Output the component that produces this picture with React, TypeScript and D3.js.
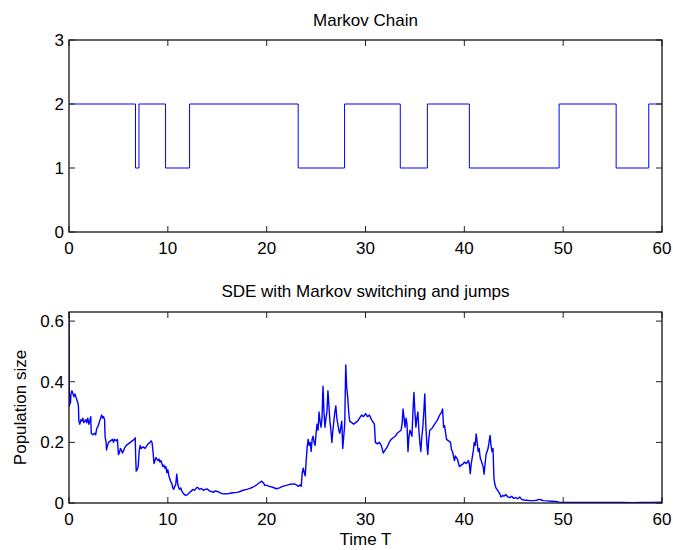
import React from 'react';
import * as d3 from 'd3';

// Markov chain: state holds from each switch time until the next
const switchTimes = [0, 6.73, 7.08, 9.77, 12.2, 23.19, 27.88, 33.52, 36.26, 40.51, 49.59, 55.36, 58.66, 60];
const chainStates = [2, 1, 2, 1, 2, 1, 2, 1, 2, 1, 2, 1, 2, 2];

// SDE path [time, population]
const sdePath: [number, number][] = [
  [0, 0.63], [0.02, 0.4], [0.05, 0.32], [0.1, 0.35], [0.15, 0.33], [0.2, 0.36], [0.3, 0.37], [0.4, 0.36],
  [0.5, 0.35], [0.6, 0.36], [0.7, 0.35], [0.8, 0.34], [0.9, 0.33], [0.95, 0.32], [1.0, 0.27], [1.1, 0.26],
  [1.2, 0.275], [1.3, 0.27], [1.4, 0.28], [1.5, 0.265], [1.6, 0.27], [1.7, 0.275], [1.8, 0.265], [1.9, 0.28],
  [2.0, 0.26], [2.1, 0.27], [2.2, 0.285], [2.25, 0.23], [2.4, 0.225], [2.6, 0.23], [2.7, 0.225], [2.8, 0.245],
  [2.9, 0.25], [3.0, 0.26], [3.1, 0.27], [3.2, 0.28], [3.3, 0.29], [3.4, 0.28], [3.5, 0.285], [3.6, 0.275],
  [3.65, 0.22], [3.75, 0.2], [3.8, 0.175], [3.9, 0.19], [4.0, 0.2], [4.2, 0.205], [4.4, 0.21], [4.5, 0.2],
  [4.6, 0.21], [4.8, 0.205], [4.9, 0.21], [5.0, 0.16], [5.1, 0.165], [5.2, 0.18], [5.3, 0.175], [5.4, 0.165],
  [5.5, 0.17], [5.6, 0.18], [5.8, 0.19], [6.0, 0.195], [6.2, 0.2], [6.4, 0.205], [6.6, 0.21], [6.7, 0.215],
  [6.75, 0.15], [6.8, 0.105], [6.9, 0.11], [7.0, 0.12], [7.1, 0.17], [7.2, 0.19], [7.3, 0.18], [7.5, 0.185],
  [7.7, 0.18], [7.9, 0.19], [8.0, 0.195], [8.2, 0.2], [8.3, 0.205], [8.4, 0.2], [8.5, 0.17], [8.6, 0.13],
  [8.7, 0.14], [8.8, 0.15], [8.9, 0.145], [9.0, 0.14], [9.1, 0.145], [9.2, 0.135], [9.3, 0.14], [9.4, 0.13],
  [9.5, 0.12], [9.6, 0.125], [9.7, 0.115], [9.8, 0.12], [9.9, 0.1], [10.0, 0.11], [10.1, 0.09], [10.2, 0.08],
  [10.3, 0.07], [10.4, 0.065], [10.5, 0.05], [10.6, 0.045], [10.7, 0.055], [10.8, 0.06], [10.9, 0.095], [11.0, 0.065],
  [11.1, 0.05], [11.2, 0.045], [11.3, 0.05], [11.4, 0.04], [11.5, 0.035], [11.6, 0.03], [11.8, 0.025], [12.0, 0.028],
  [12.2, 0.035], [12.4, 0.04], [12.5, 0.045], [12.7, 0.042], [12.9, 0.05], [13.0, 0.052], [13.2, 0.045], [13.4, 0.048],
  [13.6, 0.042], [13.8, 0.045], [14.0, 0.046], [14.2, 0.04], [14.4, 0.038], [14.6, 0.035], [14.8, 0.04], [15.0, 0.038],
  [15.2, 0.036], [15.4, 0.032], [15.6, 0.03], [15.8, 0.031], [16.0, 0.03], [16.3, 0.032], [16.6, 0.034], [17.0, 0.035],
  [17.3, 0.038], [17.6, 0.042], [18.0, 0.045], [18.3, 0.048], [18.6, 0.052], [19.0, 0.06], [19.2, 0.065], [19.5, 0.072],
  [19.7, 0.065], [19.8, 0.058], [20.0, 0.058], [20.3, 0.055], [20.6, 0.052], [21.0, 0.047], [21.3, 0.05], [21.6, 0.055],
  [22.0, 0.058], [22.4, 0.062], [22.8, 0.063], [23.0, 0.06], [23.2, 0.055], [23.4, 0.06], [23.5, 0.055], [23.6, 0.1],
  [23.7, 0.115], [23.8, 0.1], [23.9, 0.09], [24.0, 0.14], [24.1, 0.185], [24.2, 0.21], [24.3, 0.19], [24.4, 0.2],
  [24.5, 0.17], [24.6, 0.21], [24.7, 0.22], [24.8, 0.2], [24.9, 0.19], [25.0, 0.23], [25.1, 0.26], [25.2, 0.24],
  [25.3, 0.3], [25.4, 0.27], [25.5, 0.25], [25.6, 0.28], [25.7, 0.385], [25.8, 0.3], [25.9, 0.25], [26.0, 0.28],
  [26.1, 0.3], [26.2, 0.37], [26.3, 0.32], [26.4, 0.27], [26.5, 0.24], [26.6, 0.2], [26.7, 0.24], [26.8, 0.27],
  [26.9, 0.3], [27.0, 0.32], [27.1, 0.28], [27.2, 0.26], [27.3, 0.24], [27.4, 0.23], [27.5, 0.25], [27.6, 0.27],
  [27.7, 0.18], [27.8, 0.22], [27.9, 0.26], [28.0, 0.455], [28.1, 0.38], [28.2, 0.35], [28.3, 0.3], [28.4, 0.27],
  [28.6, 0.265], [28.8, 0.26], [29.0, 0.265], [29.2, 0.27], [29.4, 0.28], [29.6, 0.29], [29.8, 0.285], [30.0, 0.295],
  [30.2, 0.285], [30.4, 0.29], [30.6, 0.275], [30.8, 0.265], [30.9, 0.26], [31.0, 0.2], [31.2, 0.195], [31.4, 0.2],
  [31.6, 0.19], [31.8, 0.165], [32.0, 0.175], [32.2, 0.185], [32.4, 0.2], [32.6, 0.21], [32.8, 0.215], [33.0, 0.22],
  [33.2, 0.23], [33.4, 0.235], [33.6, 0.24], [33.7, 0.26], [33.8, 0.31], [33.9, 0.28], [34.0, 0.25], [34.1, 0.28],
  [34.2, 0.26], [34.3, 0.17], [34.4, 0.22], [34.5, 0.24], [34.6, 0.23], [34.7, 0.22], [34.8, 0.3], [34.9, 0.365],
  [35.0, 0.3], [35.1, 0.25], [35.2, 0.28], [35.3, 0.3], [35.4, 0.24], [35.5, 0.2], [35.6, 0.17], [35.7, 0.22],
  [35.8, 0.25], [35.9, 0.3], [36.0, 0.36], [36.1, 0.26], [36.2, 0.2], [36.3, 0.16], [36.4, 0.21], [36.5, 0.24],
  [36.7, 0.245], [36.9, 0.255], [37.1, 0.265], [37.3, 0.275], [37.5, 0.29], [37.7, 0.3], [37.8, 0.31], [37.9, 0.25],
  [38.0, 0.255], [38.2, 0.21], [38.4, 0.205], [38.6, 0.2], [38.7, 0.175], [38.8, 0.17], [39.0, 0.14], [39.1, 0.155],
  [39.3, 0.145], [39.5, 0.12], [39.7, 0.125], [39.9, 0.13], [40.0, 0.135], [40.2, 0.13], [40.4, 0.14], [40.5, 0.13],
  [40.6, 0.097], [40.7, 0.13], [40.8, 0.15], [40.9, 0.17], [41.0, 0.2], [41.1, 0.19], [41.2, 0.228], [41.3, 0.2],
  [41.4, 0.17], [41.5, 0.18], [41.6, 0.15], [41.7, 0.14], [41.8, 0.13], [41.9, 0.12], [42.0, 0.095], [42.1, 0.13],
  [42.2, 0.16], [42.3, 0.17], [42.4, 0.18], [42.5, 0.2], [42.6, 0.223], [42.7, 0.19], [42.8, 0.17], [42.9, 0.18],
  [43.0, 0.08], [43.1, 0.06], [43.2, 0.05], [43.3, 0.045], [43.4, 0.04], [43.6, 0.03], [43.7, 0.02], [43.9, 0.025],
  [44.0, 0.022], [44.2, 0.028], [44.4, 0.02], [44.6, 0.018], [44.8, 0.022], [45.0, 0.015], [45.2, 0.018], [45.4, 0.014],
  [45.6, 0.02], [45.8, 0.012], [46.0, 0.01], [46.3, 0.009], [46.6, 0.008], [47.0, 0.008], [47.3, 0.009], [47.6, 0.012],
  [47.8, 0.01], [48.0, 0.008], [48.4, 0.007], [48.8, 0.006], [49.2, 0.005], [49.6, 0.003], [50.0, 0.002], [51, 0.002],
  [52, 0.0015], [53, 0.002], [54, 0.0015], [55, 0.0015], [56, 0.002], [57, 0.001], [58, 0.0015], [59, 0.002], [60, 0.003],
];

const xTicks = [0, 10, 20, 30, 40, 50, 60];
const chainTicks = [0, 1, 2, 3];
const popTicks = [0, 0.2, 0.4, 0.6];

const font = '"Liberation Sans", Arial, Helvetica, sans-serif';
const W = 673;
const H = 550;
const left = 69;
const right = 662;
const tickLen = 6;

type PanelProps = {
  top: number;
  bottom: number;
  yMax: number;
  yTicks: number[];
  yFmt: (v: number) => string;
  path: (y: d3.ScaleLinear<number, number>) => string;
  lineWidth: number;
  title: string;
  titleY: number;
};

const x = d3.scaleLinear().domain([0, 60]).range([left, right]);

function Panel({ top, bottom, yMax, yTicks, yFmt, path, lineWidth, title, titleY }: PanelProps) {
  const y = d3.scaleLinear().domain([0, yMax]).range([bottom, top]);
  return (
    <g>
      <text x={(left + right) / 2} y={titleY} textAnchor="middle" fontSize={17} fontFamily={font}>{title}</text>
      <defs>
        <clipPath id={`clip-${top}`}>
          <rect x={left} y={top} width={right - left} height={bottom - top} />
        </clipPath>
      </defs>
      <path d={path(y)} fill="none" stroke="#0000ff" strokeWidth={lineWidth} strokeLinejoin="round" clipPath={`url(#clip-${top})`} />
      {xTicks.map(t => (
        <g key={`x${t}`}>
          <line x1={x(t)} x2={x(t)} y1={bottom} y2={bottom - tickLen} stroke="#222" />
          <line x1={x(t)} x2={x(t)} y1={top} y2={top + tickLen} stroke="#222" />
          <text x={x(t)} y={bottom + 22} textAnchor="middle" fontSize={17} fontFamily={font}>{t}</text>
        </g>
      ))}
      {yTicks.map(t => (
        <g key={`y${t}`}>
          <line x1={left} x2={left + tickLen} y1={y(t)} y2={y(t)} stroke="#222" />
          <line x1={right} x2={right - tickLen} y1={y(t)} y2={y(t)} stroke="#222" />
          <text x={left - 5} y={y(t)} dy="0.36em" textAnchor="end" fontSize={17} fontFamily={font}>{yFmt(t)}</text>
        </g>
      ))}
      <rect x={left} y={top} width={right - left} height={bottom - top} fill="none" stroke="#111" strokeWidth={1.3} />
    </g>
  );
}

const App = () => {
  const chainData = switchTimes.map((t, i) => [t, chainStates[i]] as [number, number]);
  const chainPath = (y: d3.ScaleLinear<number, number>) =>
    d3.line<[number, number]>().x(p => x(p[0])).y(p => y(p[1])).curve(d3.curveStepAfter)(chainData) || '';
  const sdeLine = (y: d3.ScaleLinear<number, number>) =>
    d3.line<[number, number]>().x(p => x(p[0])).y(p => y(p[1]))(sdePath) || '';

  return (
    <svg width={W} height={H} style={{ position: 'absolute', left: 0, top: 0, background: '#fff' }}>
      <rect width={W} height={H} fill="#fff" />
      <Panel top={40} bottom={232} yMax={3} yTicks={chainTicks} yFmt={v => String(v)}
        path={chainPath} lineWidth={1} title="Markov Chain" titleY={26} />
      <Panel top={312} bottom={503} yMax={0.63} yTicks={popTicks} yFmt={v => (v === 0 ? '0' : v.toFixed(1))}
        path={sdeLine} lineWidth={1.4} title="SDE with Markov switching and jumps" titleY={297} />
      <text x={(left + right) / 2} y={545} textAnchor="middle" fontSize={17} fontFamily={font}>Time T</text>
      <text transform={`translate(26,${(312 + 503) / 2}) rotate(-90)`} textAnchor="middle" fontSize={17} fontFamily={font}>
        Population size
      </text>
    </svg>
  );
};

export default App;
